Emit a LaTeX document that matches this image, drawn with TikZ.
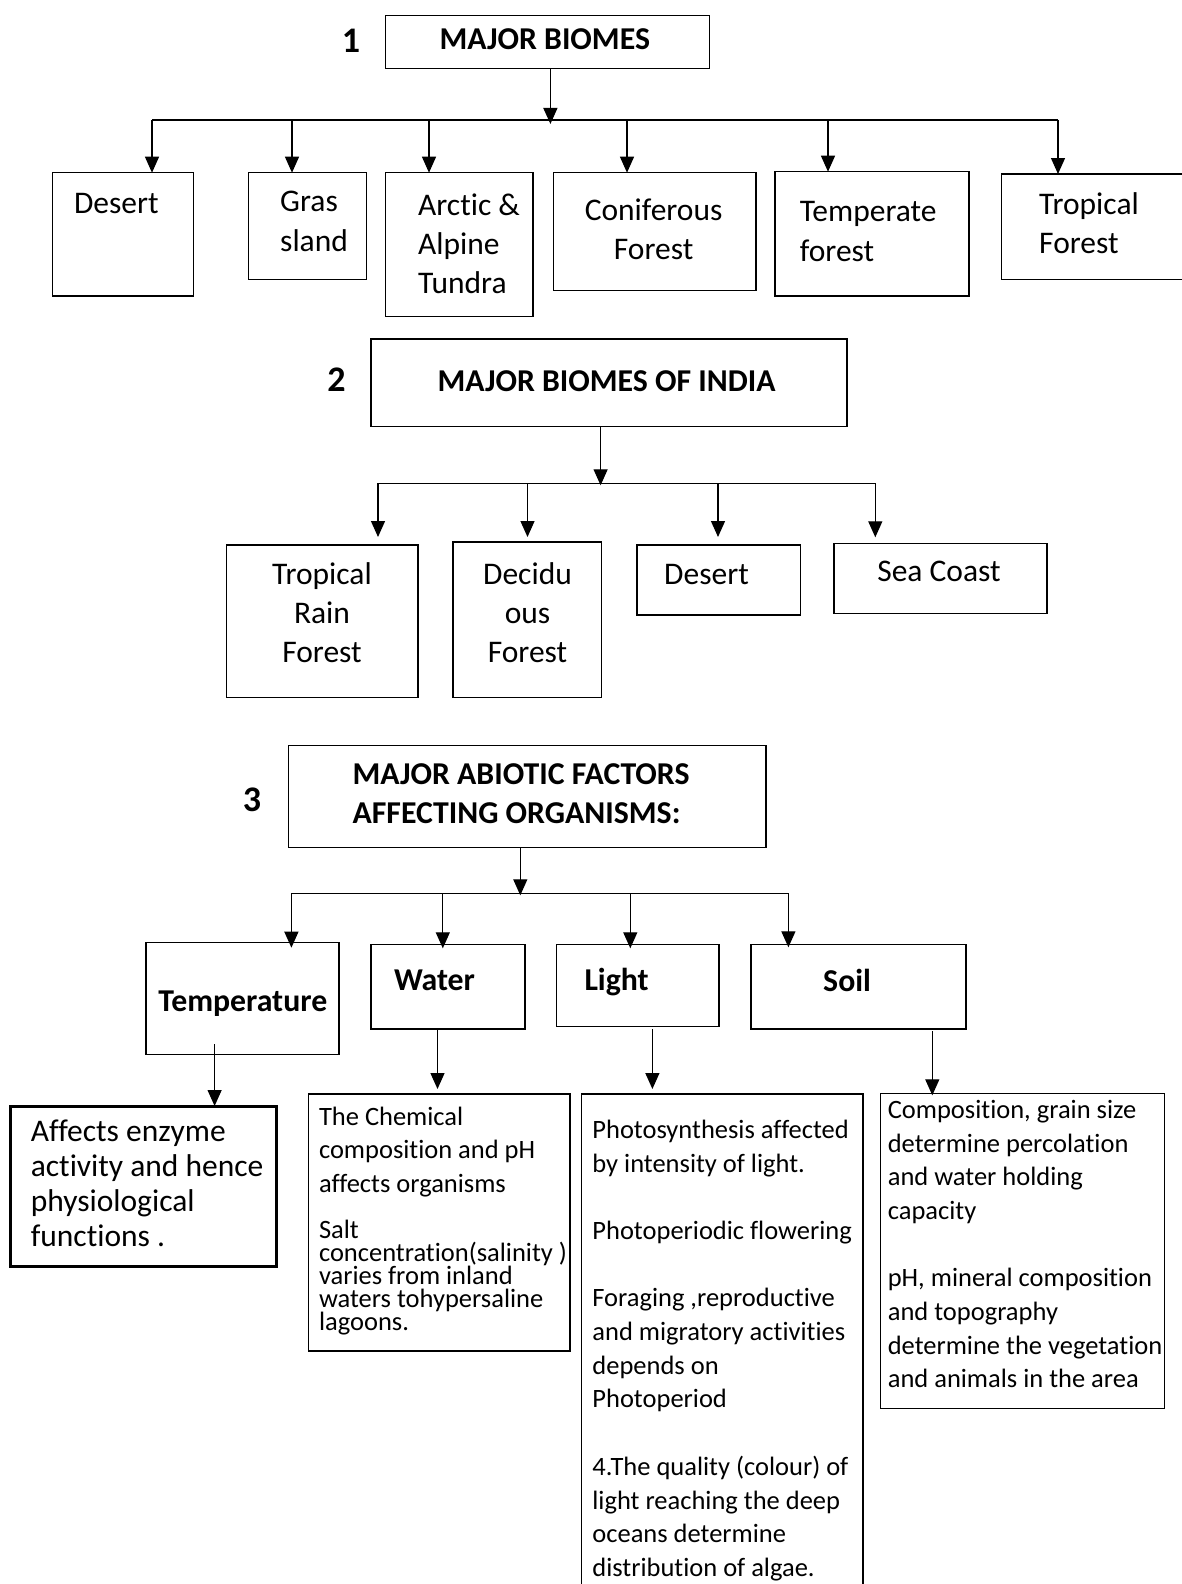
\documentclass[tikz,border=0pt]{standalone}
\usepackage{fontspec}
\setmainfont{Carlito}[Ligatures=NoCommon]
\usetikzlibrary{arrows.meta}
\newcommand\boxfont{\fontsize{31.5}{39.3}\selectfont}
\newcommand\notefont{\fontsize{26.5}{33.7}\selectfont}
\newcommand\saltfont{\fontsize{26.5}{23.1}\selectfont}
\newcommand\affectfont{\fontsize{31.5}{35}\selectfont}
\newcommand\headfont{\fontsize{31.8}{39.3}\selectfont\bfseries}
\newcommand\numfont{\fontsize{36}{40}\selectfont\bfseries}
% stacked lines, first baseline on the node base
\newcommand\lstack[1]{\vtop{\lineskiplimit=-\maxdimen\halign{##\hfil\cr#1\crcr}}}
\newcommand\cstack[1]{\vtop{\lineskiplimit=-\maxdimen\halign{\hfil##\hfil\cr#1\crcr}}}
% box from its corners
\newcommand\cellbox[6][]{\node[cell,#1,minimum width=#5-#3,minimum height=#6-#4] (#2) at (#3,#4) {};}
\begin{document}
\begin{tikzpicture}[x=1pt,y=-1pt,
  cell/.style={draw,line width=1.5pt,inner sep=0pt,outer sep=0pt,anchor=north west},
  txt/.style={inner sep=0pt,anchor=base west,font=\boxfont},
  ctxt/.style={inner sep=0pt,anchor=base,font=\boxfont},
  wire/.style={line width=1.3pt},
  arr/.style={wire,-{Triangle[length=16pt,width=14pt]}}]
\useasboundingbox (0,0) rectangle (1181,1584);

% 1 major biomes
\node[ctxt,font=\numfont] (n1) at (351,52.3) {1};
\cellbox{biomes}{385.5}{15.7}{709.3}{68.3}
\node[ctxt,font=\headfont] (biomesT) at (544.8,49.3) {MAJOR BIOMES};
\coordinate (bus1) at (550.4,120);
\draw[arr,shorten >=-4pt] (biomes.south -| bus1) -- (bus1);
\foreach \n/\x in {a/152,b/292,c/429,d/627,e/828,f/1058} \coordinate (b1\n) at (\x,120);
\draw[wire] (b1a) -- (b1f);
\cellbox{desert}{52.7}{172.7}{193.5}{296}
\cellbox{grass}{248.5}{172.7}{366.7}{279.3}
\cellbox{tundra}{385.5}{172.7}{533}{316.7}
\cellbox{conifer}{553.5}{172.7}{756}{290.7}
\cellbox{temperate}{774.8}{171.7}{969}{296}
\cellbox{tropical}{1001.5}{174}{1190}{279.3}
\foreach \n/\m in {a/desert,b/grass,c/tundra,d/conifer,e/temperate,f/tropical}
  \draw[arr] (b1\n) -- (b1\n |- \m.north);
\node[txt] (desertT) at (73.8,213.3) {Desert};
\node[txt] (grassT) at (280,211.7) {\lstack{Gras\cr sland}};
\node[txt] (tundraT) at (418,215) {\lstack{Arctic \&\cr Alpine\cr Tundra}};
\node[ctxt] (coniferT) at (653.6,220) {\cstack{Coniferous\cr Forest}};
\node[txt] (temperateT) at (799.7,221.7) {\lstack{Temperate\cr forest}};
\node[txt] (tropicalT) at (1039,214) {\lstack{Tropical\cr Forest}};

% 2 major biomes of india
\node[ctxt,font=\numfont] (n2) at (336.6,391) {2};
\cellbox{india}{370.8}{339}{847}{426.7}
\node[ctxt,font=\headfont] (indiaT) at (606.6,391) {MAJOR BIOMES OF INDIA};
\coordinate (bus2) at (600.6,483.3);
\draw[arr,shorten >=-2pt] (india.south -| bus2) -- (bus2);
\foreach \n/\x in {a/378,b/527.5,c/718,d/875.3} \coordinate (b2\n) at (\x,483.3);
\draw[wire] (b2a) -- (b2d);
\cellbox{rainforest}{226.4}{545}{418}{697.7}
\cellbox{deciduous}{452.8}{542}{601.7}{697.7}
\cellbox{desertin}{637}{545}{800.6}{615}
\cellbox{seacoast}{834}{543.3}{1047}{613.7}
\foreach \n/\m/\s in {a/rainforest/8,b/deciduous/5,c/desertin/8,d/seacoast/6}
  \draw[arr,shorten >=\s pt] (b2\n) -- (b2\n |- \m.north);
\node[ctxt] (rainforestT) at (322,584.3) {\cstack{Tropical\cr Rain\cr Forest}};
\node[ctxt] (deciduousT) at (527.5,584.3) {\cstack{Decidu\cr ous\cr Forest}};
\node[txt] (desertinT) at (664,584.3) {Desert};
\node[ctxt] (seacoastT) at (939,581.7) {Sea Coast};

% 3 abiotic factors
\node[ctxt,font=\numfont] (n3) at (252,811.7) {3};
\cellbox{abiotic}{288.4}{745.7}{765.8}{847.7}
\node[txt,font=\headfont] (abioticT) at (352.4,784) {\lstack{MAJOR ABIOTIC FACTORS\cr AFFECTING ORGANISMS:}};
\coordinate (bus3) at (520.3,893.3);
\draw[arr,shorten >=-2pt] (abiotic.south -| bus3) -- (bus3);
\foreach \n/\x in {a/291.4,b/442.8,c/630.3,d/788.4} \coordinate (b3\n) at (\x,893.3);
\draw[wire] (b3a) -- (b3d);
\cellbox{temp}{146}{942.7}{338.9}{1054.3}
\cellbox{water}{371.2}{944.3}{524.8}{1029}
\cellbox{light}{556.5}{944.3}{719.1}{1026.7}
\cellbox{soil}{750.8}{944.3}{966.1}{1029}
\foreach \n/\m/\s in {a/temp/-5,b/water/-4,c/light/-4,d/soil/-3}
  \draw[arr,shorten >=\s pt] (b3\n) -- (b3\n |- \m.north);
\node[ctxt,font=\headfont] (tempT) at (242.8,1011) {Temperature};
\node[txt,font=\headfont] (waterT) at (393.8,990) {Water};
\node[txt,font=\headfont] (lightT) at (584.3,990) {Light};
\node[txt,font=\headfont] (soilT) at (823,991.7) {Soil};

% notes below the factors
\cellbox[line width=3pt]{affects}{10.3}{1106}{276.7}{1266.7}
\cellbox{waternote}{308.5}{1094}{570.2}{1351}
\cellbox{lightnote}{581.7}{1094}{863}{1600}
\cellbox{soilnote}{880.6}{1093.3}{1164.3}{1408.3}
\coordinate (d3a) at (214.6,1044);
\coordinate (d3b) at (437.5,1029);
\coordinate (d3c) at (652.4,1029);
\coordinate (d3d) at (932.3,1031);
\draw[arr] (d3a) -- (d3a |- affects.north);
\draw[arr,shorten >=5pt] (d3b) -- (d3b |- waternote.north);
\draw[arr,shorten >=5pt] (d3c) -- (d3c |- lightnote.north);
\draw[arr,shorten >=-2pt] (d3d) -- (d3d |- soilnote.north);
\node[txt,font=\affectfont] (affectsT) at (30.6,1141.7) {\lstack{Affects enzyme\cr activity and hence\cr physiological\cr functions .}};
\node[txt,font=\notefont] (waterA) at (318.8,1125) {\lstack{The Chemical\cr composition and pH\cr affects organisms}};
\node[txt,font=\saltfont] (waterB) at (318.8,1238.3) {\lstack{Salt\cr concentration(salinity )\cr varies from inland\cr waters tohypersaline\cr lagoons.}};
\node[txt,font=\notefont] (lightN) at (592.2,1138.3) {\lstack{Photosynthesis affected\cr by intensity of light.\cr\cr Photoperiodic flowering\cr\cr Foraging ,reproductive\cr and migratory activities\cr depends on\cr Photoperiod\cr\cr 4.The quality (colour) of\cr light reaching the deep\cr oceans determine\cr distribution of algae.}};
\node[txt,font=\notefont] (soilN) at (887.6,1118.3) {\lstack{Composition, grain size\cr determine percolation\cr and water holding\cr capacity\cr\cr pH, mineral composition\cr and topography\cr determine the vegetation\cr and animals in the area}};
\end{tikzpicture}
\end{document}
